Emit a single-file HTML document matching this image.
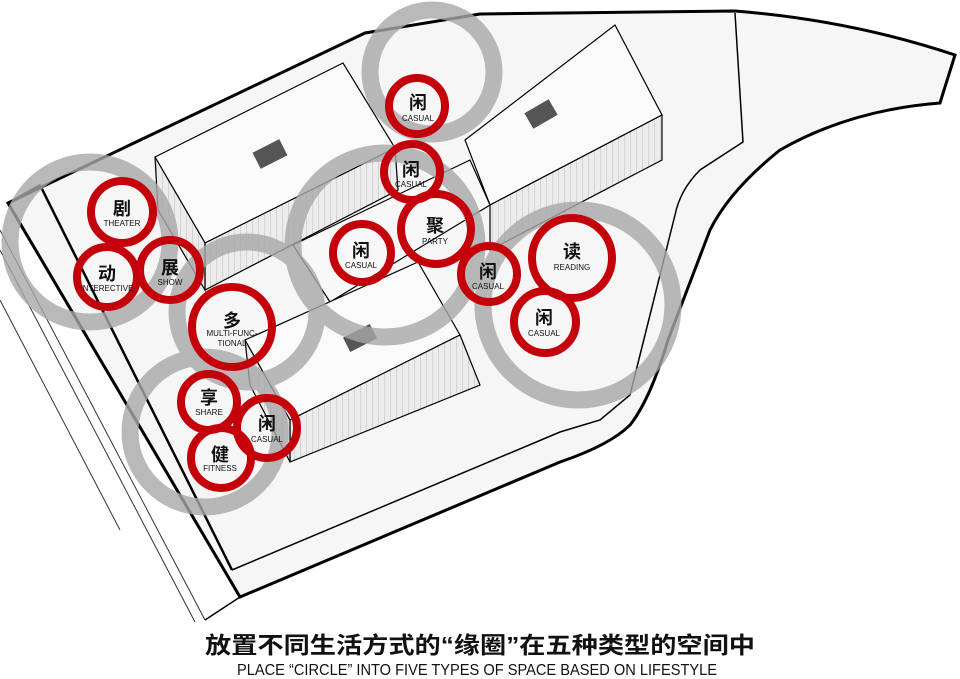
<!DOCTYPE html>
<html><head><meta charset="utf-8"><style>
html,body{margin:0;padding:0;background:#fff;}
svg{display:block;}
.cn{font-family:"Liberation Sans","Noto Sans CJK SC",sans-serif;font-weight:bold;fill:#111;text-anchor:middle;}
.en{font-family:"Liberation Sans",sans-serif;fill:#111;text-anchor:middle;}
</style></head><body>
<svg width="960" height="679" viewBox="0 0 960 679" xmlns="http://www.w3.org/2000/svg">
<defs>
<pattern id="st" width="6" height="6" patternUnits="userSpaceOnUse"><rect width="6" height="6" fill="#ececec"/><rect width="1" height="6" fill="#d4d4d4"/></pattern>
</defs>
<path d="M8,203 L365,33 L480,14 L735,11 Q850,20 955,55 L940,103 Q850,110 780,150 Q730,190 710,230 L668,340 Q650,400 630,425 Q610,445 560,462 L240,597 Z" fill="#f6f6f6" stroke="#000" stroke-width="3"/>
<path d="M735,13 L743,142 L700,170 Q680,190 675,215 L630,395 L600,420 L560,432 L232,570" fill="none" stroke="#000" stroke-width="1.5"/>
<path d="M40,185 L232,570" fill="none" stroke="#000" stroke-width="2.5"/>
<path d="M8,203 L40,185" fill="none" stroke="#000" stroke-width="2"/>
<path d="M0,230 L205,620 M0,250 L195,622 M0,300 L120,530" fill="none" stroke="#333" stroke-width="1"/>
<path d="M205,620 L240,597" fill="none" stroke="#000" stroke-width="1.5"/>
<g stroke="#000" stroke-width="1.2">
<polygon points="155,157 343,63 395,148 205,243" fill="#fafafa"/>
<polygon points="205,243 395,148 398,190 205,290" fill="url(#st)"/>
<polygon points="155,157 205,243 205,290 158,210" fill="url(#st)"/>
<polygon points="465,140 615,25 662,115 490,205" fill="#fafafa"/>
<polygon points="490,205 662,115 662,160 490,250" fill="url(#st)"/>
<polygon points="293,245 470,160 490,205 330,302" fill="#f8f8f8"/>
<polygon points="245,340 418,262 460,335 290,420" fill="#fafafa"/>
<polygon points="290,420 460,335 480,385 290,462" fill="url(#st)"/>
<polygon points="245,340 290,420 290,462 250,385" fill="url(#st)"/>
</g>
<rect x="255" y="145" width="30" height="18" fill="#555" transform="rotate(-27 270 154)"/>
<rect x="527" y="105" width="28" height="18" fill="#555" transform="rotate(-30 541 114)"/>
<rect x="345" y="330" width="30" height="16" fill="#555" transform="rotate(-27 360 338)"/>
<g fill="none" stroke="#a8a8a8" stroke-width="17" opacity="0.8">
<circle cx="90" cy="242" r="80"/>
<circle cx="247" cy="312" r="70"/>
<circle cx="432" cy="72" r="62"/>
<circle cx="385" cy="245" r="92"/>
<circle cx="578" cy="305" r="95"/>
<circle cx="205" cy="432" r="75"/>
</g>
<g fill="none" stroke="#c4000a" stroke-width="8">
<circle cx="122" cy="212" r="31"/>
<circle cx="107" cy="277" r="30"/>
<circle cx="170" cy="270" r="30"/>
<circle cx="232" cy="327" r="40"/>
<circle cx="417" cy="106" r="28"/>
<circle cx="412" cy="172" r="28"/>
<circle cx="436" cy="229" r="35"/>
<circle cx="362" cy="253" r="29"/>
<circle cx="489" cy="274" r="28"/>
<circle cx="572" cy="258" r="40"/>
<circle cx="545" cy="322" r="31"/>
<circle cx="209" cy="402" r="28"/>
<circle cx="267" cy="428" r="30"/>
<circle cx="221" cy="458" r="30"/>
</g>
<g class="cn" font-size="18">
<text x="122" y="215">剧</text><text x="107" y="280">动</text><text x="170" y="274">展</text>
<text x="232" y="327">多</text><text x="418" y="109">闲</text><text x="411" y="176">闲</text>
<text x="435" y="232">聚</text><text x="361" y="257">闲</text><text x="488" y="278">闲</text>
<text x="572" y="258">读</text><text x="544" y="324">闲</text><text x="209" y="404">享</text>
<text x="267" y="430">闲</text><text x="220" y="461">健</text>
</g>
<g class="en" font-size="8">
<text x="122" y="226">THEATER</text><text x="107" y="291">INTERECTIVE</text><text x="170" y="285">SHOW</text>
<text x="232" y="336">MULTI-FUNC-</text><text x="232" y="346">TIONAL</text>
<text x="418" y="121">CASUAL</text><text x="411" y="187">CASUAL</text><text x="435" y="244">PARTY</text>
<text x="361" y="268">CASUAL</text><text x="488" y="289">CASUAL</text><text x="572" y="270">READING</text>
<text x="544" y="336">CASUAL</text><text x="209" y="415">SHARE</text><text x="267" y="442">CASUAL</text>
<text x="220" y="471">FITNESS</text>
</g>
<text class="cn" x="480" y="653" font-size="23" textLength="550" lengthAdjust="spacingAndGlyphs">放置不同生活方式的“缘圈”在五种类型的空间中</text>
<text class="en" x="477" y="675" font-size="16" textLength="480" lengthAdjust="spacingAndGlyphs">PLACE “CIRCLE” INTO FIVE TYPES OF SPACE BASED ON LIFESTYLE</text>
</svg>
</body></html>
